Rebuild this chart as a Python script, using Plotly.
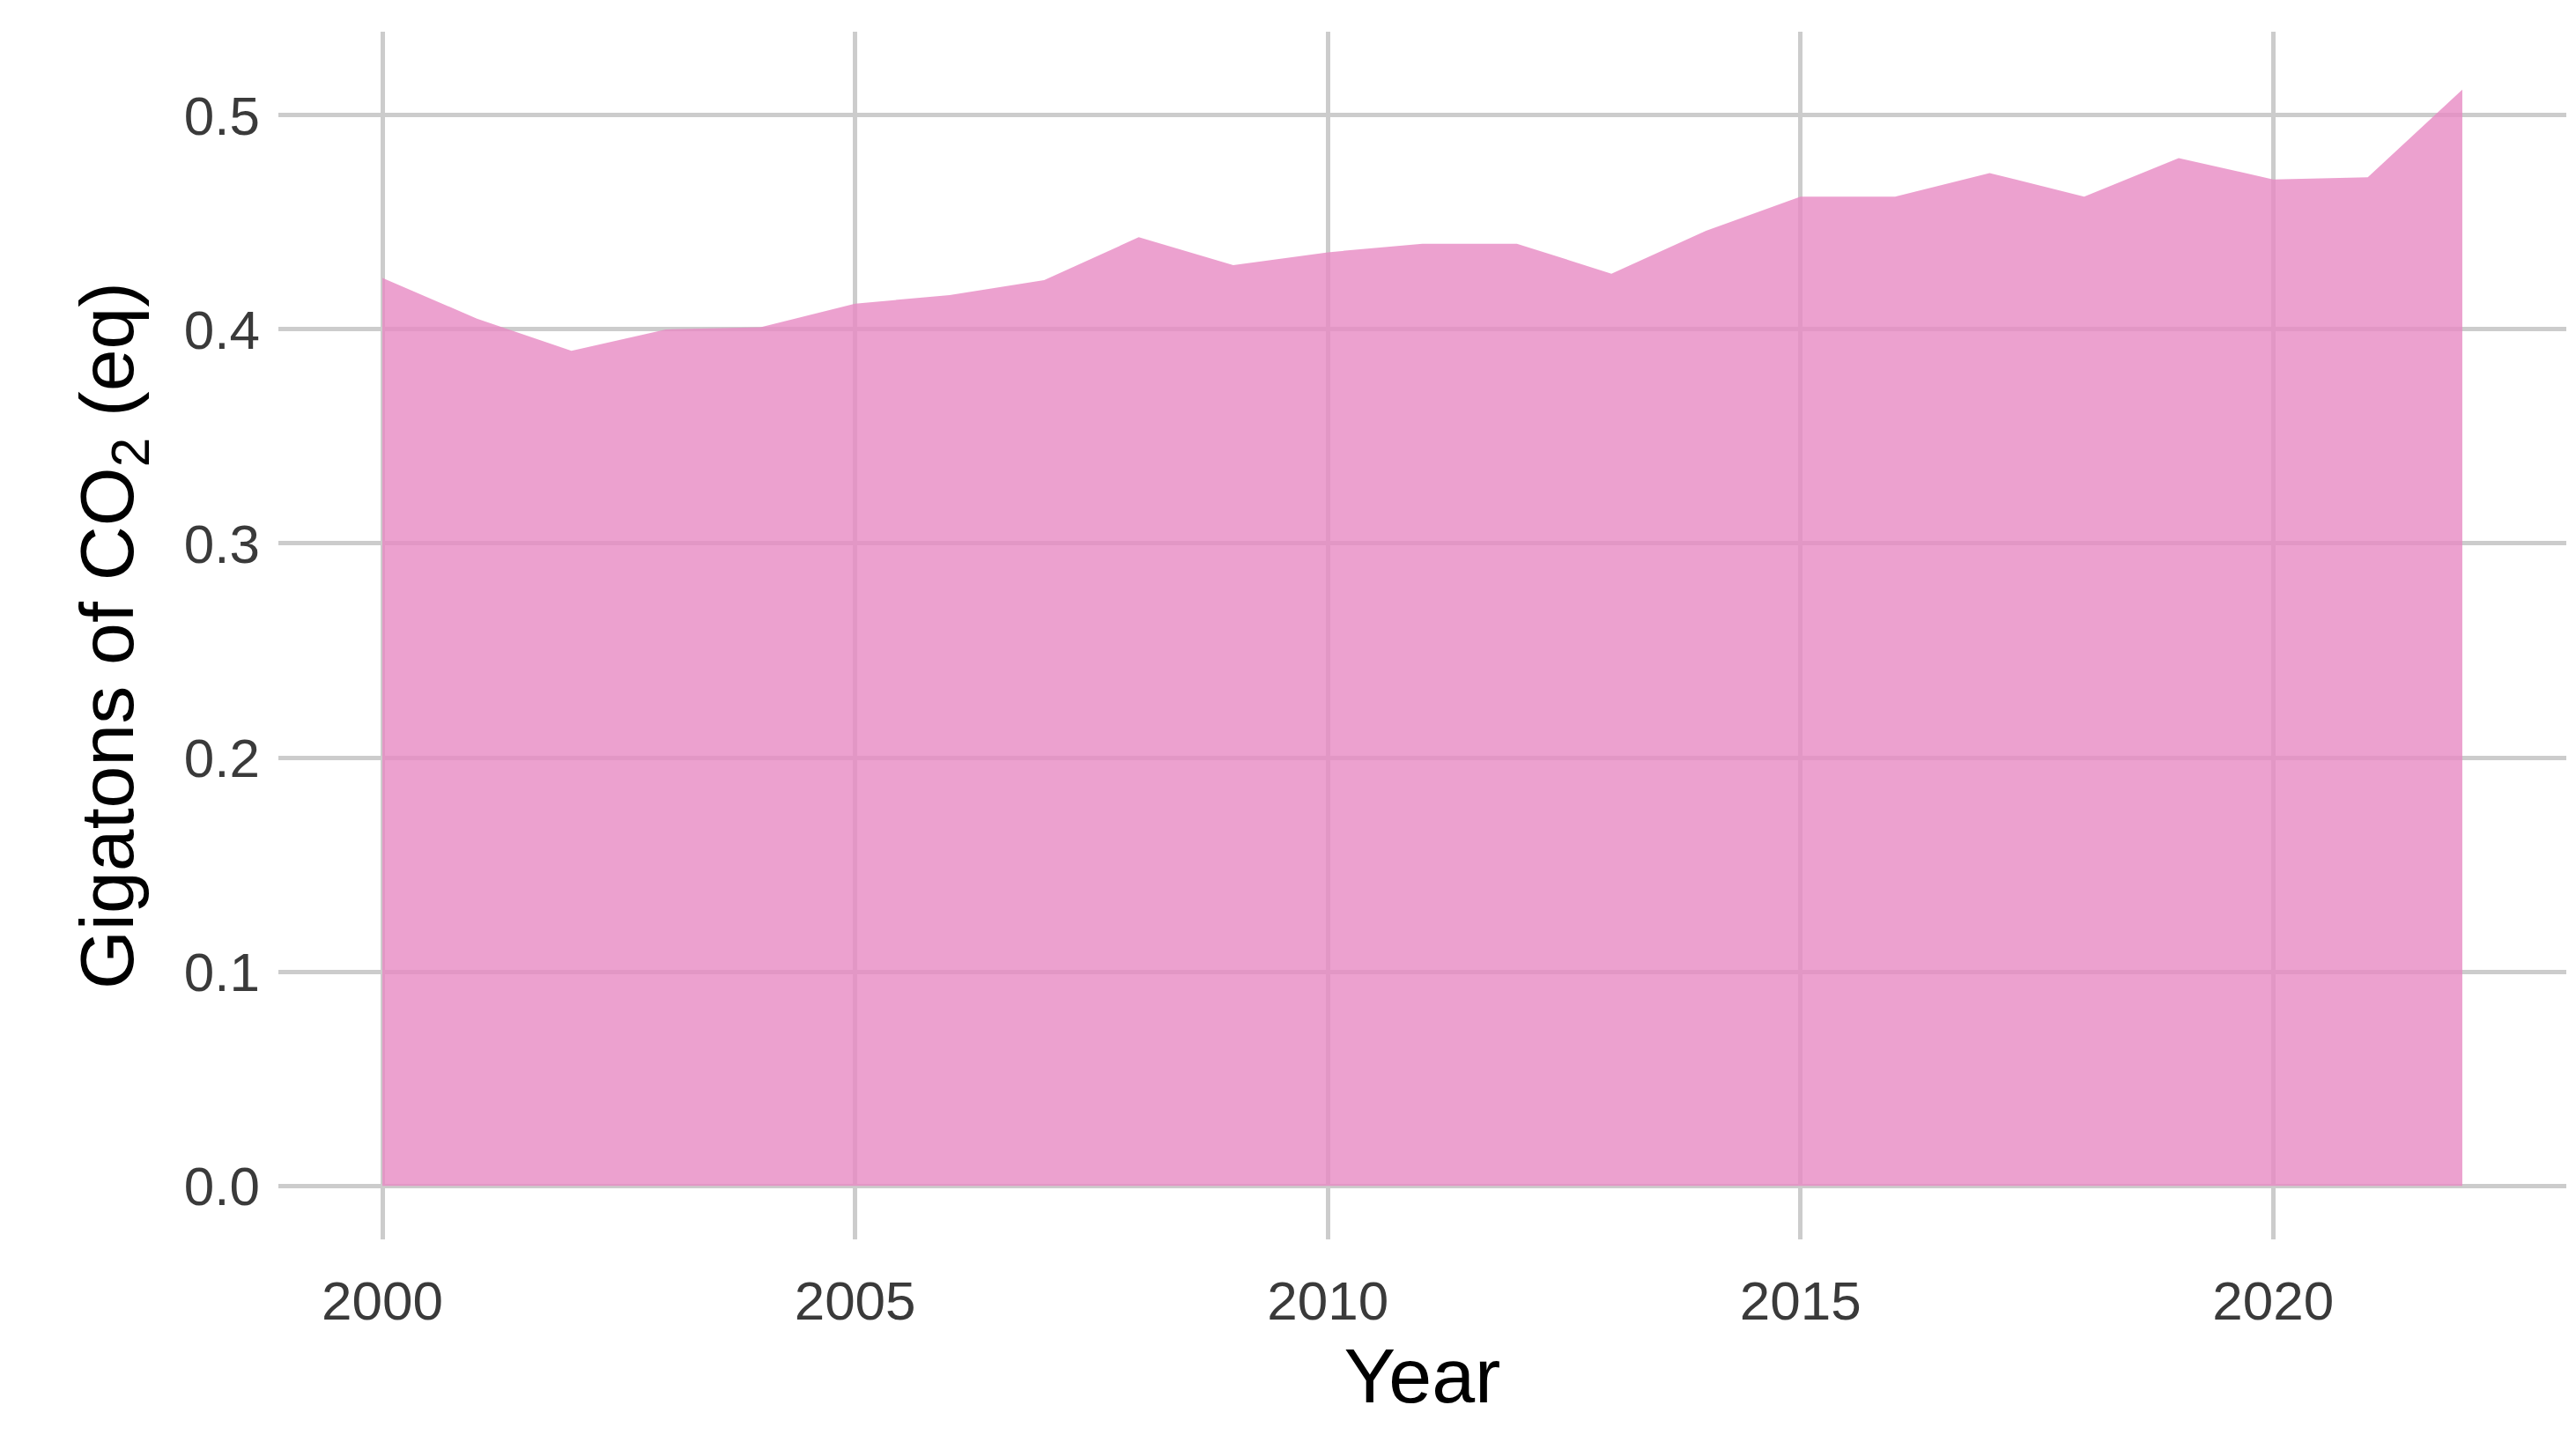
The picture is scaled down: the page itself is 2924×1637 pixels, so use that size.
import plotly.graph_objects as go

years = list(range(2000, 2023))
values = [0.424, 0.405, 0.390, 0.400, 0.401, 0.412, 0.416, 0.423, 0.443, 0.430,
          0.436, 0.440, 0.440, 0.426, 0.446, 0.462, 0.462, 0.473, 0.462, 0.480,
          0.470, 0.471, 0.512]
x_ticks = [2000, 2005, 2010, 2015, 2020]
y_ticks = [0.0, 0.1, 0.2, 0.3, 0.4, 0.5]

fig = go.Figure(go.Scatter(x=years, y=values, mode="lines", fill="tozeroy",
                           line=dict(width=0, color="rgba(231,138,195,0.8)"),
                           fillcolor="rgba(231,138,195,0.8)"))
fig.update_layout(
    width=2924, height=1637, plot_bgcolor="white", paper_bgcolor="white",
    margin=dict(l=308, r=19, t=28, b=238), showlegend=False,
    font=dict(family="Liberation Sans, Arial", color="#4D4D4D"),
)
fig.update_xaxes(range=[1998.9, 2023.1], tickvals=x_ticks, ticktext=[str(t) for t in x_ticks],
                 gridcolor="#CCCCCC", gridwidth=5, zeroline=False, showline=False,
                 tickfont=dict(size=62, color="#3A3A3A"), ticks="", ticklabelstandoff=28,
                 title=dict(text="Year", font=dict(size=88, color="black"), standoff=20))
fig.update_yaxes(range=[-0.025, 0.539], tickvals=y_ticks, ticktext=[f"{t:.1f}" for t in y_ticks],
                 gridcolor="#CCCCCC", gridwidth=5, zeroline=False, showline=False,
                 tickfont=dict(size=62, color="#3A3A3A"), ticks="", ticklabelstandoff=20,
                 title=dict(text="Gigatons of CO<sub>2</sub> (eq)", font=dict(size=86, color="black"), standoff=28))
fig.write_html("out.html")
